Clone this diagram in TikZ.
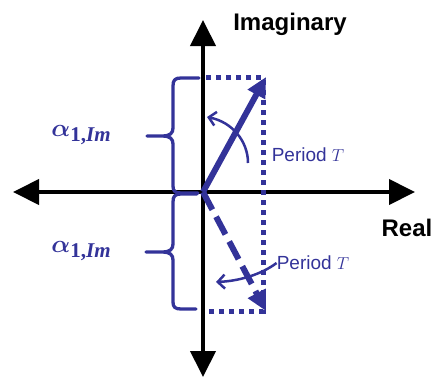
\documentclass[tikz,border=0pt]{standalone}
\usepackage{fontspec}
\setmainfont{Liberation Sans}
\newfontfamily\subfont{Liberation Serif}
\usepackage{amsmath}
\usetikzlibrary{arrows.meta}
\definecolor{pblue}{RGB}{51,51,153}
\newcommand{\alphalab}{{\boldmath$\alpha$}\raisebox{-5pt}{\fontsize{21}{21}\selectfont\subfont\bfseries 1,\itshape Im}}
\tikzset{
  axis/.style={line width=4pt, black, {Triangle[length=26pt,width=25pt]}-{Triangle[length=26pt,width=25pt]}},
  phasor/.style={line width=6pt, pblue, -{Triangle[length=20pt,width=19pt]}},
  dotline/.style={line width=5pt, pblue, dash pattern=on 5pt off 5pt},
  bracepath/.style={line width=3.3pt, pblue, line cap=round, line join=round},
  rot/.style={line width=2.5pt, pblue, -{Straight Barb[length=7pt,width=14pt,line width=2.5pt]}},
  axlabel/.style={font=\fontsize{24}{24}\selectfont\bfseries, inner sep=0pt},
  perlabel/.style={font=\fontsize{19}{19}\selectfont, text=pblue, inner sep=0pt},
  alabel/.style={font=\fontsize{31}{31}\selectfont, text=pblue, inner sep=0pt}
}
\begin{document}
\begin{tikzpicture}[x=1pt,y=-1pt]
\useasboundingbox (0,0) rectangle (433,378);
% axes
\coordinate (O) at (203,192);
\coordinate (L) at (13,192);
\coordinate (R) at (415,192);
\coordinate (T) at (203,20);
\coordinate (B) at (203,377);
\draw[axis] (L) -- (R);
\draw[axis] (B) -- (T);
\node[axlabel] (imag) at (290,24) {Imaginary};
\node[axlabel] (real) at (407,228) {Real};
% dotted rectangles
\coordinate (A1) at (206,77);
\coordinate (C1) at (263,77);
\coordinate (X1) at (263,192);
\coordinate (A2) at (206,311);
\coordinate (C2) at (263,311);
\draw[dotline] (A1) -- (C1) -- (X1) -- (C2) -- (A2);
% phasors
\coordinate (P1) at (266,77);
\coordinate (P2) at (266,311);
\draw[phasor] (O) -- (P1);
\draw[phasor, dash pattern=on 20pt off 8pt] (O) -- (P2);
% braces
\draw[bracepath] (199,78) -- (181,78) .. controls (175,78) and (173,80) .. (173,86) -- (173,128)
  .. controls (173,133) and (170,136) .. (163,136) -- (147,136)
  (163,136) .. controls (170,136) and (173,139) .. (173,144) -- (173,186)
  .. controls (173,191) and (175,193) .. (181,193) -- (198,193);
\draw[bracepath] (197,194) -- (181,194) .. controls (175,194) and (173,196) .. (173,202) -- (173,244)
  .. controls (173,249) and (170,252) .. (163,252) -- (146,252)
  (163,252) .. controls (170,252) and (173,255) .. (173,260) -- (173,302)
  .. controls (173,307) and (175,309) .. (181,309) -- (196,309);
\node[alabel] (a1) at (81,135) {\alphalab};
\node[alabel] (a2) at (81,251) {\alphalab};
% period labels and rotation arcs
\node[perlabel] (per1) at (308,155) {Period $T$};
\node[perlabel] (per2) at (313,263) {Period $T$};
\coordinate (r1s) at (248,163);
\coordinate (r1e) at (207,117);
\draw[rot] (r1s) .. controls (248,141) and (232,122) .. (r1e);
\coordinate (r2e) at (216,282);
\draw[rot] (per2.west) .. controls (262,274) and (240,281) .. (r2e);
\end{tikzpicture}
\end{document}
